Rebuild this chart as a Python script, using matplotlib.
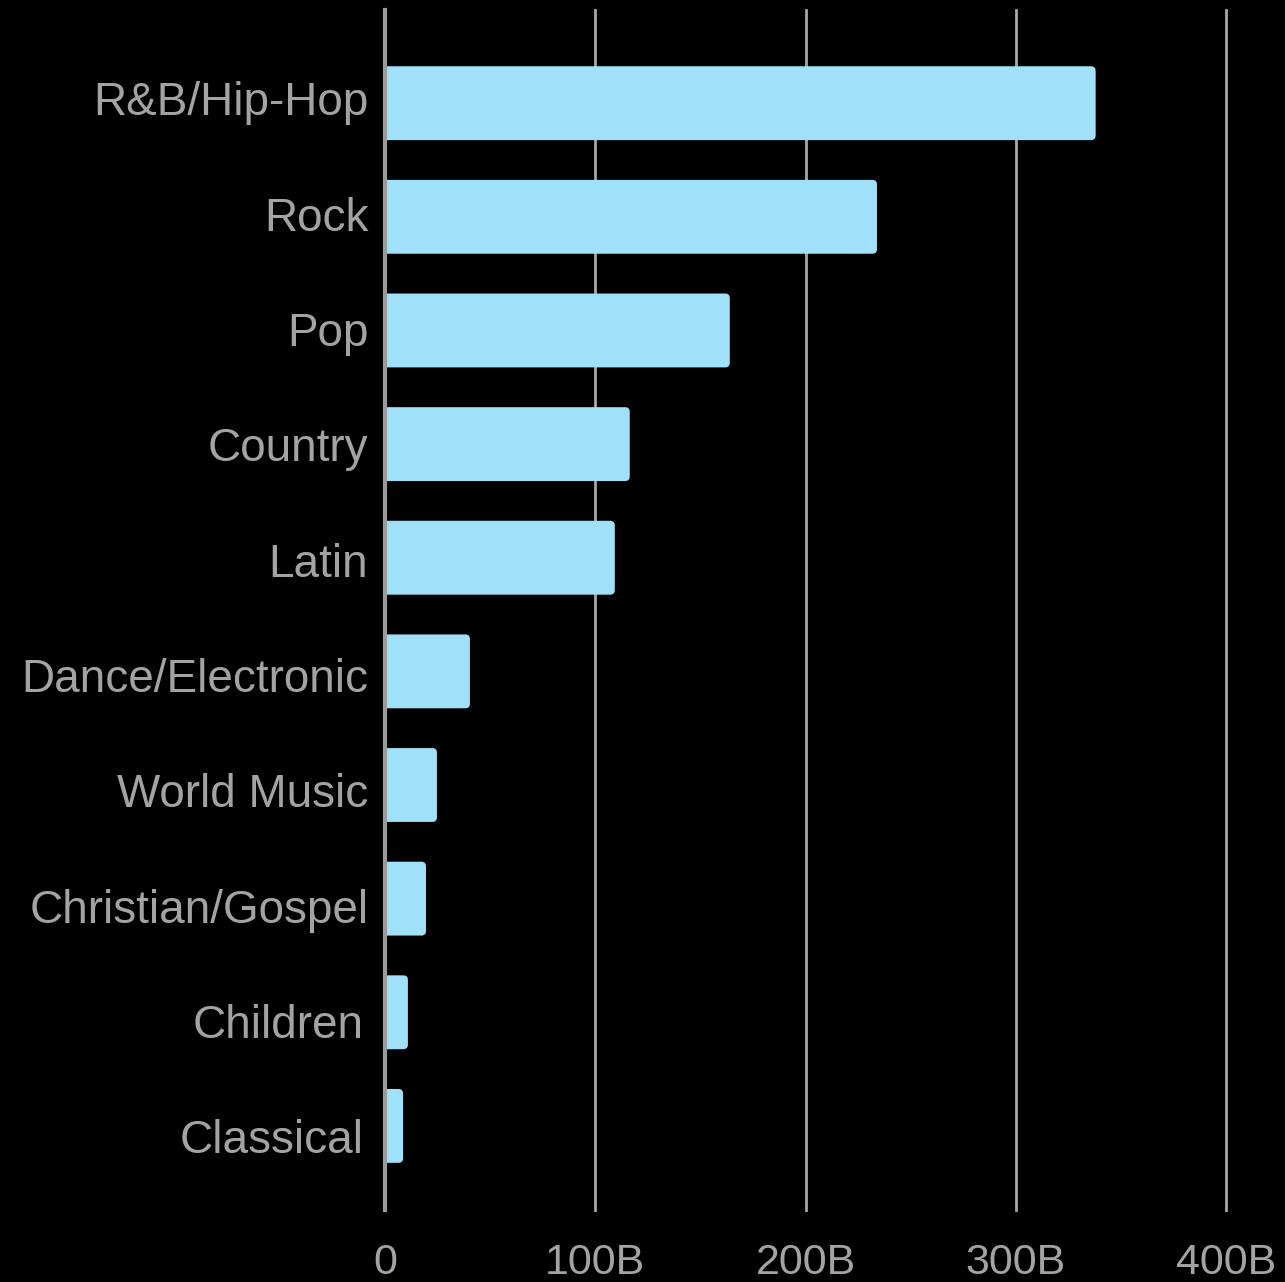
import matplotlib.pyplot as plt
from matplotlib.patches import FancyBboxPatch
from matplotlib.ticker import FuncFormatter
from matplotlib.transforms import ScaledTranslation

genres = ["R&B/Hip-Hop", "Rock", "Pop", "Country", "Latin",
          "Dance/Electronic", "World Music", "Christian/Gospel",
          "Children", "Classical"]
# streams, in billions
streams = [338, 234, 164, 116.4, 109.3, 40.4, 24.7, 19.5, 10.9, 8.6]
ticks = [0, 100, 200, 300, 400]

bar_color = "#a0e0f8"
text_color = "#a3a3a3"
grid_color = "#a8a8a8"

fig = plt.figure(figsize=(12.85, 12.82), dpi=100, facecolor="black")
ax = fig.add_axes([385 / 1285, 1 - 1210 / 1282, 841 / 1285, 1200 / 1282])
ax.set_facecolor("black")

bars = ax.barh(range(len(genres)), streams, height=0.65, color=bar_color)

# swap the plain rectangles for ones with rounded ends
rx = 2.2
ry = 0.04
for b in bars:
    x, y = b.get_x(), b.get_y()
    w, h = b.get_width(), b.get_height()
    b.set_visible(False)
    p = FancyBboxPatch((x - rx, y), w + rx, h,
                       boxstyle="round,pad=0,rounding_size=%g" % rx,
                       mutation_aspect=ry / rx,
                       facecolor=bar_color, edgecolor="none", zorder=2)
    ax.add_patch(p)

ax.set_xlim(0, 400)
ax.set_ylim(9.74, -0.82)

ax.set_xticks(ticks)
ax.xaxis.set_major_formatter(FuncFormatter(lambda v, _: "0" if v == 0 else "%dB" % v))
ax.set_yticks(range(len(genres)))
ax.set_yticklabels(genres)

ax.grid(axis="x", color=grid_color, linewidth=2, zorder=0)
for gl in ax.get_xgridlines():
    gl.set_clip_on(False)
ax.set_axisbelow(True)

for s in ["top", "right", "bottom"]:
    ax.spines[s].set_visible(False)
ax.spines["left"].set_color("#9a9a9a")
ax.spines["left"].set_linewidth(3)
ax.spines["left"].set_zorder(3)

ax.tick_params(axis="y", length=0, pad=12, labelsize=33, labelcolor=text_color)
ax.tick_params(axis="x", length=0, pad=24, labelsize=31, labelcolor=text_color)

# labels run on a slightly looser spacing than the bars
for i, lab in enumerate(ax.get_yticklabels()):
    lab.set_family(["Liberation Sans", "DejaVu Sans"])
    dx = -5 if i >= 8 else 0
    dy = 5 - 1.7 * i
    lab.set_transform(lab.get_transform() +
                      ScaledTranslation(dx / 100, dy / 100, fig.dpi_scale_trans))
for lab in ax.get_xticklabels():
    lab.set_family(["Liberation Sans", "DejaVu Sans"])

fig.savefig("out.png", dpi=100, facecolor="black")
